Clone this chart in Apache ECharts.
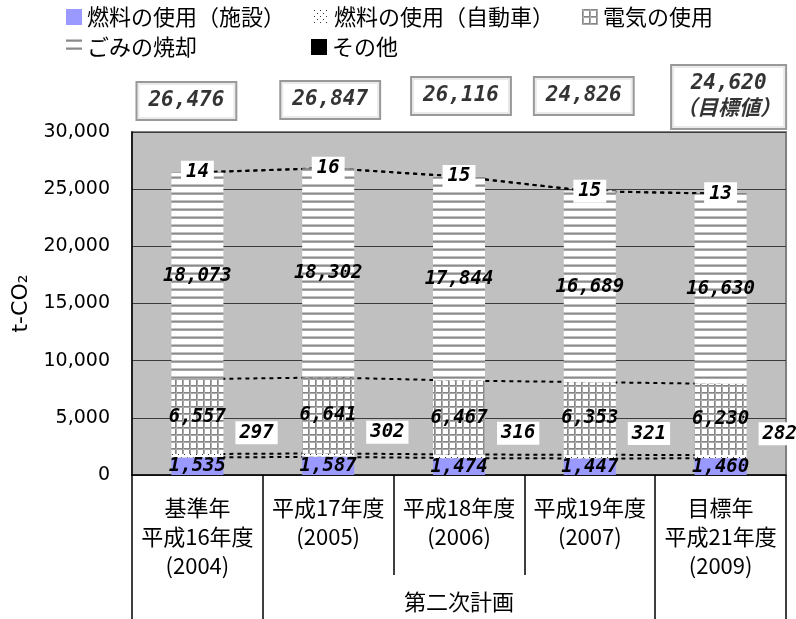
<!DOCTYPE html>
<html>
<head>
<meta charset="utf-8">
<script src="https://cdn.jsdelivr.net/npm/echarts@6/dist/echarts.min.js"></script>
<style>
html, body { margin: 0; padding: 0; background: #fff; }
#main { width: 796px; height: 619px; }
</style>
</head>
<body>
<div id="main"></div>
<script>
// 年度ごとの区分
var categories = ['基準年\n平成16年度\n(2004)', '平成17年度\n(2005)', '平成18年度\n(2006)', '平成19年度\n(2007)', '目標年\n平成21年度\n(2009)'];
var planLabels = ['', '', '第二次計画', '', ''];

var seriesNames = ['燃料の使用（施設）', '燃料の使用（自動車）', '電気の使用', 'ごみの焼却', 'その他'];
var fuelFacility = [1535, 1587, 1474, 1447, 1460];
var fuelVehicle = [297, 302, 316, 321, 282];
var electricity = [6557, 6641, 6467, 6353, 6230];
var wasteBurning = [18073, 18302, 17844, 16689, 16630];
var others = [14, 16, 15, 15, 13];
var totals = [26476, 26847, 26116, 24826, 24620];
var targetNote = '（目標値）';
var targetIndex = 4;

var yMin = 0, yMax = 30000, yStep = 5000;

// 合計の枠は手で置かれているので少しずつずらす
var boxNudge = [[-11, 4], [2, 3], [2, -1], [-6, -1], [8, 0]];

var layers = [fuelFacility, fuelVehicle, electricity, wasteBurning, others];

function makePattern(w, h, draw) {
    var c = document.createElement('canvas');
    c.width = w;
    c.height = h;
    var ctx = c.getContext('2d');
    ctx.fillStyle = '#fff';
    ctx.fillRect(0, 0, w, h);
    draw(ctx);
    return { image: c, repeat: 'repeat' };
}

var dotFill = makePattern(6, 6, function (ctx) {
    ctx.fillStyle = '#333';
    ctx.fillRect(1, 1, 1, 1);
    ctx.fillRect(4, 4, 1, 1);
});
var gridFill = makePattern(7, 7, function (ctx) {
    ctx.fillStyle = '#858585';
    ctx.fillRect(0, 0, 7, 1);
    ctx.fillRect(0, 0, 1, 7);
    ctx.fillStyle = '#aaaaaa';
    ctx.fillRect(0, 1, 7, 1);
    ctx.fillRect(1, 0, 1, 7);
});
var stripeFill = makePattern(8, 8, function (ctx) {
    ctx.fillStyle = '#c4c4c4';
    ctx.fillRect(0, 0, 8, 1);
    ctx.fillStyle = '#8a8a8a';
    ctx.fillRect(0, 1, 8, 1);
    ctx.fillStyle = '#aaaaaa';
    ctx.fillRect(0, 2, 8, 1);
});

var fills = ['#9999ff', dotFill, gridFill, stripeFill, '#000'];

var numFont = {
    fontFamily: 'DejaVu Sans Mono',
    fontStyle: 'italic',
    fontWeight: 'bold',
    fontSize: 19,
    color: '#000'
};

function fmt(v) {
    return v.toLocaleString('en-US');
}

var labelStyles = [
    { position: 'inside' },
    { position: 'right', distance: 12, offset: [0, -23], backgroundColor: '#fff', padding: [3, 4, 1, 4] },
    { position: 'inside' },
    { position: 'inside' },
    { position: 'inside', backgroundColor: '#fff', padding: [3, 5, 1, 5] }
];

var series = [];

// 系列線（棒の後ろに描いて、棒と棒の間だけ見せる）
var running = categories.map(function () { return 0; });
layers.forEach(function (arr, k) {
    running = running.map(function (v, i) { return v + arr[i]; });
    series.push({
        type: 'line',
        name: 'line' + k,
        data: running.slice(),
        symbol: 'none',
        silent: true,
        z: 1,
        lineStyle: { color: '#000', width: 2, type: [4, 4] }
    });
});

layers.forEach(function (arr, k) {
    series.push({
        type: 'bar',
        name: seriesNames[k],
        stack: 'total',
        barWidth: 52,
        z: 3,
        data: arr,
        itemStyle: { color: fills[k] },
        label: Object.assign({
            show: true,
            formatter: function (p) { return fmt(p.value); }
        }, numFont, labelStyles[k])
    });
});

// 合計（枠付き）
series.push({
    type: 'scatter',
    name: 'total',
    data: totals.map(function (t, i) {
        var item = {
            value: yMax,
            label: { offset: [boxNudge[i][0], -35 + boxNudge[i][1]] }
        };
        if (i === targetIndex) item.label.padding = [6, 4, 4, 4];
        return item;
    }),
    symbolSize: 0,
    clip: false,
    silent: true,
    z: 5,
    label: Object.assign({
        show: true,
        position: 'inside',
        formatter: function (p) {
            var s = fmt(totals[p.dataIndex]);
            return p.dataIndex === targetIndex ? s + '\n' + targetNote : s;
        },
        backgroundColor: '#fff',
        borderColor: '#7f7f7f',
        borderWidth: 2,
        padding: [6, 11, 4, 11],
        lineHeight: 26
    }, numFont, { fontSize: 21, fontFamily: 'DejaVu Sans Mono, Noto Sans CJK JP' })
});

var legendText = { fontFamily: 'Noto Sans CJK JP', fontSize: 22, color: '#000' };

var chart = echarts.init(document.getElementById('main'));
chart.setOption({
    animation: false,
    legend: [
        {
            data: seriesNames.slice(0, 3),
            left: 66, top: 6,
            padding: 0,
            itemWidth: 16, itemHeight: 16,
            itemGap: 28,
            icon: 'rect',
            textStyle: legendText
        },
        {
            data: seriesNames.slice(3),
            left: 66, top: 36,
            padding: 0,
            itemWidth: 16, itemHeight: 16,
            itemGap: 114,
            icon: 'rect',
            textStyle: legendText
        }
    ],
    grid: {
        left: 132, top: 132, width: 654, height: 343,
        show: true,
        backgroundColor: '#c0c0c0',
        borderColor: '#808080',
        borderWidth: 2
    },
    xAxis: [
        {
            type: 'category',
            data: categories,
            axisLine: { lineStyle: { color: '#000', width: 1.5 } },
            axisTick: { show: true, interval: 0, length: 100, lineStyle: { color: '#000', width: 1.5 } },
            axisLabel: {
                interval: 0,
                margin: 18,
                lineHeight: 29,
                fontSize: 22,
                fontFamily: 'Noto Sans CJK JP',
                color: '#000'
            }
        },
        {
            type: 'category',
            position: 'bottom',
            data: planLabels,
            axisLine: { show: false },
            axisTick: {
                show: true,
                length: 144,
                interval: function (idx) { return idx === 0 || idx === 1 || idx === 4; },
                lineStyle: { color: '#000', width: 1.5 }
            },
            axisLabel: {
                interval: 0,
                margin: 112,
                lineHeight: 29,
                fontSize: 22,
                fontFamily: 'Noto Sans CJK JP',
                color: '#000'
            }
        }
    ],
    yAxis: {
        type: 'value',
        min: yMin, max: yMax, interval: yStep,
        name: 't-CO₂',
        nameLocation: 'middle',
        nameGap: 90,
        nameTextStyle: { fontFamily: 'DejaVu Sans', fontSize: 22, color: '#000' },
        axisLine: { show: true, lineStyle: { color: '#000', width: 1.5 } },
        axisTick: { show: false },
        splitLine: { lineStyle: { color: '#3c3c3c', width: 1 } },
        axisLabel: {
            margin: 22,
            fontFamily: 'DejaVu Sans',
            fontSize: 19,
            color: '#000',
            formatter: function (v) { return fmt(v); }
        }
    },
    series: series
});
</script>
</body>
</html>
